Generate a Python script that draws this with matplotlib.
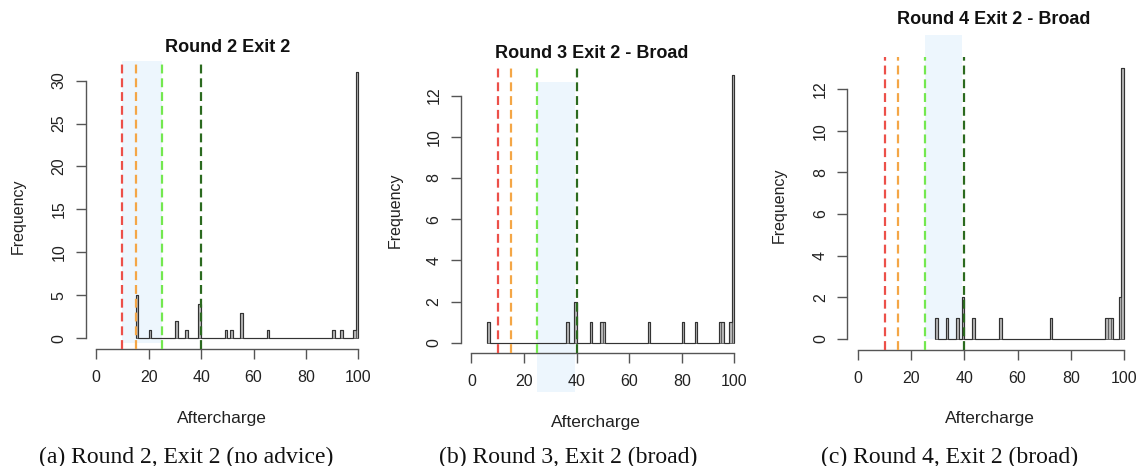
import numpy as np
import matplotlib
matplotlib.use("Agg")
import matplotlib.pyplot as plt
from matplotlib.patches import Rectangle

# ---------------- data ----------------
titles = ["Round 2 Exit 2", "Round 3 Exit 2 - Broad", "Round 4 Exit 2 - Broad"]
captions = ["(a) Round 2, Exit 2 (no advice)", "(b) Round 3, Exit 2 (broad)", "(c) Round 4, Exit 2 (broad)"]

# left edge of each width-1 histogram bin and its count
p1_bins = [15, 20, 30, 34, 39, 49, 51, 55, 65, 90, 93, 98, 99]
p1_counts = [5, 1, 2, 1, 4, 1, 1, 3, 1, 1, 1, 1, 31]
p2_bins = [6, 36, 39, 45, 49, 50, 67, 80, 85, 94, 95, 98, 99]
p2_counts = [1, 1, 2, 1, 1, 1, 1, 1, 1, 1, 1, 1, 13]
p3_bins = [29, 33, 37, 39, 43, 53, 72, 93, 94, 95, 98, 99]
p3_counts = [1, 1, 1, 2, 1, 1, 1, 1, 1, 1, 2, 13]

# reference lines (Aftercharge)
ref_lines = [10, 15, 25, 40]
ref_colors = ["#ec5049", "#f4a646", "#74e84f", "#2b6a1f"]

# shaded advice bands (x0, x1, y0, y1)
bands = [(10, 25, -0.5, 32.3), (25, 39.5, -2.4, 12.65), (25, 39, 0.0, 14.6)]

y_ticks = [list(range(0, 31, 5)), list(range(0, 13, 2)), list(range(0, 13, 2))]
x_ticks = [0, 20, 40, 60, 80, 100]

# ---------------- layout ----------------
W, H = 1136, 466
fig = plt.figure(figsize=(W / 100, H / 100), dpi=100)

def px_axes(x0, x1, ytop, ybot):
    return fig.add_axes([x0 / W, (H - ybot) / H, (x1 - x0) / W, (ybot - ytop) / H])

axes = [px_axes(85.8, 368.8, 61.3, 349.0),
        px_axes(460.8, 744.8, 64.3, 353.4),
        px_axes(847.4, 1134.6, 57.4, 349.8)]

data = [(p1_bins, p1_counts), (p2_bins, p2_counts), (p3_bins, p3_counts)]
axis_col = "#555555"
sans = "Liberation Sans"

for i, ax in enumerate(axes):
    bins, counts = data[i]
    vals = np.repeat(np.array(bins) + 0.5, counts)
    edges = np.arange(bins[0], 101, 1)
    ymax = max(counts)
    ax.hist(vals, bins=edges, facecolor="#b8b8b8", edgecolor="#555555",
            linewidth=0.6, zorder=3)
    ax.hist(vals, bins=edges, histtype="step", color="#333333",
            linewidth=0.85, zorder=3.5)
    ax.set_xlim(-4, 104)
    ax.set_ylim(-0.04 * ymax, 1.04 * ymax)

    bx0, bx1, by0, by1 = bands[i]
    ax.add_patch(Rectangle((bx0, by0), bx1 - bx0, by1 - by0, facecolor="#edf6fd",
                           edgecolor="none", zorder=1, clip_on=False))
    for xv, c in zip(ref_lines, ref_colors):
        ax.axvline(xv, color=c, lw=1.6, linestyle=(0, (4, 2.2)), zorder=4)

    for s in ["top", "right"]:
        ax.spines[s].set_visible(False)
    for s in ["left", "bottom"]:
        ax.spines[s].set_color(axis_col)
        ax.spines[s].set_linewidth(1.0)
    ax.spines["bottom"].set_bounds(0, 100)
    ax.spines["left"].set_bounds(0, y_ticks[i][-1])
    ax.set_xticks(x_ticks)
    ax.set_yticks(y_ticks[i])
    ax.tick_params(axis="both", direction="out", length=7, width=1.0, color=axis_col,
                   labelsize=11.5, labelcolor="#222222")
    ax.tick_params(axis="x", pad=8)
    ax.tick_params(axis="y", pad=7, labelrotation=90)
    for lab in ax.get_yticklabels():
        lab.set_va("center")
        lab.set_family(sans)
    for lab in ax.get_xticklabels():
        lab.set_family(sans)
    ax.patch.set_alpha(0)

# titles
title_pos = [(228, 47), (592, 53), (994, 19)]
for t, (x, y) in zip(titles, title_pos):
    fig.text(x / W, 1 - y / H, t, ha="center", va="center", fontsize=13,
             fontweight="bold", family=sans, color="#111111")

# axis labels
xl_pos = [(222, 418), (596, 422), (990, 419)]
for (x, y) in xl_pos:
    fig.text(x / W, 1 - y / H, "Aftercharge", ha="center", va="center",
             fontsize=12.5, family=sans, color="#222222")
yl_pos = [(18, 216), (395, 210), (779, 205)]
for (x, y) in yl_pos:
    fig.text(x / W, 1 - y / H, "Frequency", ha="center", va="center",
             fontsize=11.5, family=sans, rotation=90, color="#222222")

# captions
cap_pos = [(186, 457), (568, 457), (950, 457)]
for c, (x, y) in zip(captions, cap_pos):
    fig.text(x / W, 1 - y / H, c, ha="center", va="center", fontsize=17,
             family="Liberation Serif", color="#111111")

fig.savefig("out.png", dpi=100)
